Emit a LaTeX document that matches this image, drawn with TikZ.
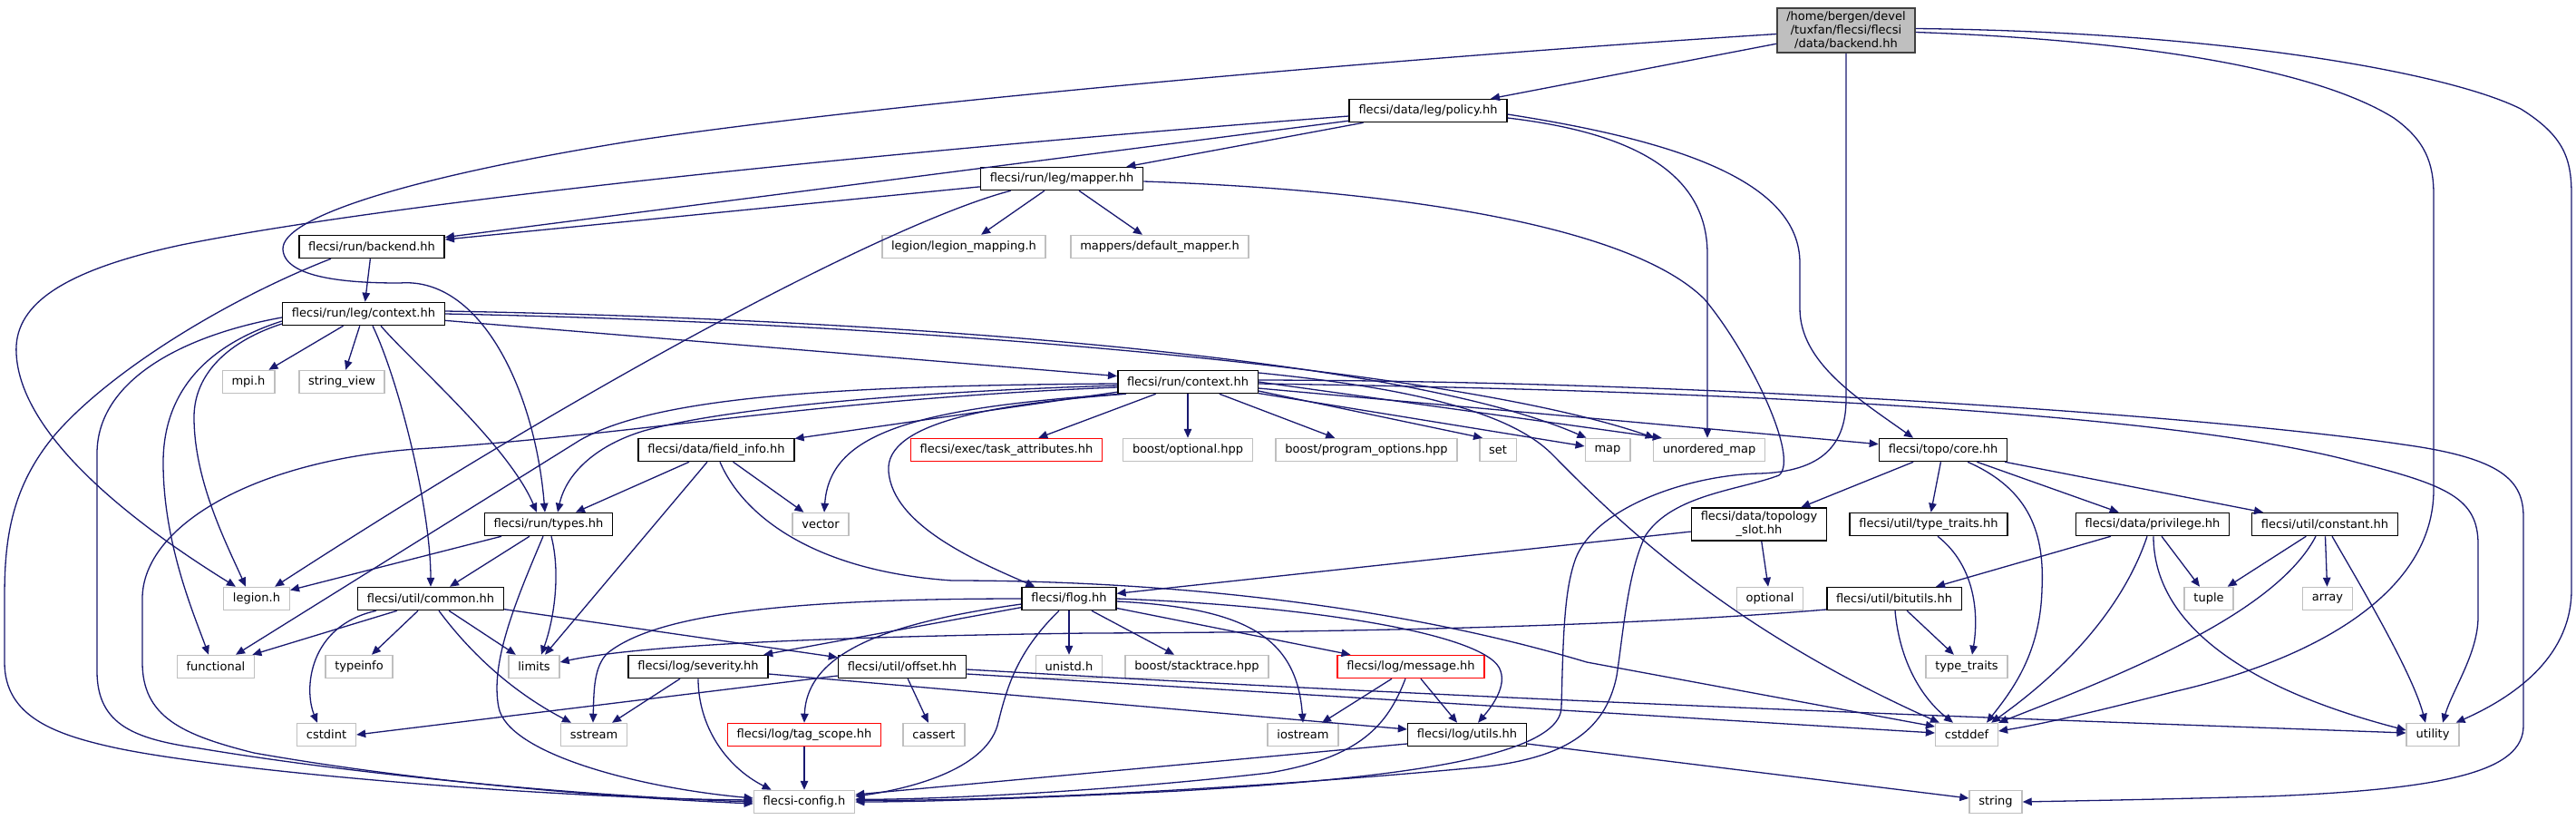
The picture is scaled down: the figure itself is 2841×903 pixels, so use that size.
\documentclass[tikz,border=0pt]{standalone}
\usepackage{fontspec}
\setmainfont{DejaVu Sans}
\usetikzlibrary{arrows.meta,calc}
\definecolor{edgeblue}{RGB}{25,25,112}
\definecolor{graybd}{RGB}{191,191,191}
\definecolor{darkbd}{RGB}{64,64,64}
\definecolor{mainfill}{RGB}{191,191,191}
\tikzset{
 nbox/.style={draw=black, line width=1.5pt, fill=white, font=\fontsize{13}{15}\selectfont, inner xsep=10.3pt, inner ysep=0pt, minimum height=25pt},
 sysbox/.style={nbox, draw=graybd},
 redbox/.style={nbox, draw=red},
 mainbox/.style={nbox, fill=mainfill, draw=darkbd, align=center, inner ysep=4pt},
 twobox/.style={nbox, align=center, inner ysep=4pt},
 dep/.style={draw=edgeblue, line width=1.3pt, -{Triangle[length=10pt,width=8.5pt]}},
}
\begin{document}
\begin{tikzpicture}[x=1pt,y=-1pt]
\fill[white] (0,0) rectangle (2841,903);
\useasboundingbox (0,0) rectangle (2841,903);
% nodes
\node[mainbox] (main) at (2036,33.5) {/home/bergen/devel\\/tuxfan/flecsi/flecsi\\/data/backend.hh};
\node[nbox] (policy) at (1575,122) {flecsi/data/leg/policy.hh};
\node[nbox] (mapper) at (1171,197) {flecsi/run/leg/mapper.hh};
\node[sysbox] (lmap) at (1063,272) {legion/legion\_mapping.h};
\node[sysbox] (dmap) at (1279,272) {mappers/default\_mapper.h};
\node[nbox] (rback) at (410,272) {flecsi/run/backend.hh};
\node[nbox] (lctx) at (401,346) {flecsi/run/leg/context.hh};
\node[sysbox] (mpi) at (274,421) {mpi.h};
\node[sysbox] (sview) at (377,421) {string\_view};
\node[nbox] (rctx) at (1310,421) {flecsi/run/context.hh};
\node[nbox] (finfo) at (790,496) {flecsi/data/field\_info.hh};
\node[redbox] (task) at (1110,496) {flecsi/exec/task\_attributes.hh};
\node[sysbox] (bopt) at (1310,496) {boost/optional.hpp};
\node[sysbox] (bpo) at (1507,496) {boost/program\_options.hpp};
\node[sysbox] (nset) at (1652,496) {set};
\node[sysbox] (nmap) at (1773,496) {map};
\node[sysbox] (numap) at (1885,496) {unordered\_map};
\node[nbox] (core) at (2143,496) {flecsi/topo/core.hh};
\node[nbox] (types) at (605,578) {flecsi/run/types.hh};
\node[sysbox] (vector) at (905,578) {vector};
\node[twobox] (tslot) at (1940,578) {flecsi/data/topology\\\_slot.hh};
\node[nbox] (tthh) at (2127,578) {flecsi/util/type\_traits.hh};
\node[nbox] (priv) at (2374,578) {flecsi/data/privilege.hh};
\node[nbox] (konst) at (2564,578) {flecsi/util/constant.hh};
\node[sysbox] (legion) at (283,660) {legion.h};
\node[nbox] (common) at (475,660) {flecsi/util/common.hh};
\node[nbox] (flog) at (1179,660) {flecsi/flog.hh};
\node[sysbox] (optional) at (1952,660) {optional};
\node[nbox] (bitu) at (2089,660) {flecsi/util/bitutils.hh};
\node[sysbox] (tuple) at (2436,660) {tuple};
\node[sysbox] (array) at (2567,660) {array};
\node[sysbox] (functional) at (238,735) {functional};
\node[sysbox] (typeinfo) at (396,735) {typeinfo};
\node[sysbox] (limits) at (589,735) {limits};
\node[nbox] (sev) at (770,735) {flecsi/log/severity.hh};
\node[nbox] (offset) at (995,735) {flecsi/util/offset.hh};
\node[sysbox] (unistd) at (1179,735) {unistd.h};
\node[sysbox] (stack) at (1320,735) {boost/stacktrace.hpp};
\node[redbox] (msg) at (1556,735) {flecsi/log/message.hh};
\node[sysbox] (ttraits) at (2169,735) {type\_traits};
\node[sysbox] (cstdint) at (360,810) {cstdint};
\node[sysbox] (sstream) at (655,810) {sstream};
\node[redbox] (tag) at (887,810) {flecsi/log/tag\_scope.hh};
\node[sysbox] (cassert) at (1030,810) {cassert};
\node[sysbox] (iostream) at (1437,810) {iostream};
\node[nbox] (utils) at (1618,810) {flecsi/log/utils.hh};
\node[sysbox] (cstddef) at (2169,810) {cstddef};
\node[sysbox] (utility) at (2683,810) {utility};
\node[sysbox] (config) at (887,884) {flecsi-config.h};
\node[sysbox] (string) at (2201,884) {string};
% main
\draw[dep] (main) -- (policy);
\draw[dep] ($(main.west)+(0,4)$) .. controls (1600,60) and (1000,110) .. (700,155) .. controls (450,195) and (310,240) .. (312,275) .. controls (314,310) and (400,312) .. (441,312) .. controls (530,305) and (590,430) .. ($(types.north)+(-4,0)$);
\draw[dep] (main.south) -- (2036,440) .. controls (2036,490) and (2010,520) .. (1940,522) .. controls (1860,524) and (1760,560) .. (1738,615) .. controls (1725,650) and (1724,700) .. (1722,780) .. controls (1720,840) and (1500,860) .. (1300,872) .. controls (1100,882) and (1000,884) .. (config.east);
\draw[dep] ($(main.east)+(0,2)$) .. controls (2380,45) and (2560,80) .. (2640,130) .. controls (2675,155) and (2684,180) .. (2684,215) -- (2684,540) .. controls (2684,650) and (2560,725) .. (2400,762) .. controls (2320,782) and (2260,797) .. ($(cstddef.east)+(0,-4)$);
\draw[dep] ($(main.east)+(0,-2)$) .. controls (2450,35) and (2700,80) .. (2780,120) .. controls (2828,150) and (2836,175) .. (2836,215) -- (2836,650) .. controls (2836,720) and (2780,765) .. ($(utility.north east)+(-4,0)$);
% policy
\draw[dep] ($(policy.west)+(0,6)$) .. controls (1000,165) and (450,220) .. (200,270) .. controls (60,300) and (15,340) .. (18,390) .. controls (22,470) and (120,560) .. ($(legion.north west)+(14,0)$);
\draw[dep] (policy) -- (rback);
\draw[dep] (policy) -- (mapper);
\draw[dep] ($(policy.east)+(0,8)$) .. controls (1790,145) and (1883,185) .. (1883,280) -- ($(numap.north)+(-2,0)$);
\draw[dep] ($(policy.east)+(0,4)$) .. controls (1850,155) and (1985,200) .. (1985,290) -- (1985,340) .. controls (1985,400) and (2050,440) .. ($(core.north)+(-33,0)$);
% mapper
\draw[dep] (mapper) -- (rback);
\draw[dep] (mapper) -- (lmap);
\draw[dep] (mapper) -- (dmap);
\draw[dep] ($(mapper.south west)+(34,0)$) .. controls (1000,240) and (700,390) .. ($(legion.north east)+(-17,0)$);
\draw[dep] ($(mapper.east)+(0,3)$) .. controls (1550,210) and (1800,250) .. (1880,330) .. controls (1930,390) and (1985,505) .. (1962,524) .. controls (1920,540) and (1845,545) .. (1815,590) .. controls (1795,630) and (1790,700) .. (1783,745) .. controls (1770,810) and (1720,835) .. (1640,845) .. controls (1400,868) and (1100,884) .. ($(config.east)+(0,-2)$);
% run/backend
\draw[dep] (rback) -- (lctx);
\draw[dep] ($(rback.south)+(-45,0)$) .. controls (250,330) and (120,410) .. (60,480) .. controls (10,540) and (5,600) .. (5,660) -- (5,730) .. controls (5,790) and (60,810) .. (130,825) .. controls (250,850) and (600,880) .. ($(config.west)+(0,-2)$);
% leg/context
\draw[dep] (lctx) -- (mpi);
\draw[dep] (lctx) -- (sview);
\draw[dep] (lctx) -- (rctx);
\draw[dep] ($(lctx.south)+(19,0)$) .. controls (455,400) and (560,490) .. ($(types.north)+(-13,0)$);
\draw[dep] ($(lctx.south)+(10,0)$) .. controls (440,420) and (475,560) .. (common.north);
\draw[dep] ($(lctx.west)+(0,11)$) .. controls (255,375) and (214,410) .. (214,460) .. controls (214,530) and (250,600) .. ($(legion.north)+(-12,0)$);
\draw[dep] ($(lctx.west)+(0,8)$) .. controls (230,380) and (180,430) .. (180,510) .. controls (180,600) and (215,680) .. ($(functional.north)+(-8,0)$);
\draw[dep] ($(lctx.west)+(0,4)$) .. controls (200,370) and (107,420) .. (107,500) -- (107,740) .. controls (107,800) and (150,815) .. (220,825) .. controls (400,855) and (650,878) .. (config.west);
\draw[dep] ($(lctx.east)+(0,-3)$) .. controls (1000,352) and (1550,395) .. ($(nmap.north west)+(2,0)$);
\draw[dep] (lctx.east) .. controls (1000,356) and (1600,405) .. ($(numap.north west)+(2,0)$);
% run/context
\draw[dep] (rctx) -- (finfo);
\draw[dep] (rctx) -- (task);
\draw[dep] (rctx) -- (bopt);
\draw[dep] (rctx) -- (bpo);
\draw[dep] ($(rctx.east)+(0,10)$) -- ($(nset.north west)+(4,0)$);
\draw[dep] (rctx) -- (nmap);
\draw[dep] (rctx.east) -- ($(numap.north west)+(10,0)$);
\draw[dep] (rctx) -- (core);
\draw[dep] ($(rctx.south west)+(10,0)$) .. controls (1100,445) and (975,465) .. (980,520) .. controls (985,580) and (1080,620) .. ($(flog.north west)+(15,0)$);
\draw[dep] ($(rctx.south west)+(5,0)$) .. controls (1000,450) and (915,480) .. ($(vector.north)+(4,0)$);
\draw[dep] ($(rctx.west)+(0,4)$) .. controls (1000,432) and (800,450) .. (710,475) .. controls (660,490) and (625,520) .. ($(types.north)+(10,0)$);
\draw[dep] ($(rctx.west)+(0,2)$) .. controls (900,425) and (720,440) .. (640,485) -- ($(functional.north)+(22,0)$);
\draw[dep] ($(rctx.west)+(0,6)$) .. controls (900,440) and (700,480) .. (459,495) .. controls (280,508) and (157,580) .. (157,660) -- (157,730) .. controls (157,790) and (200,810) .. (280,830) .. controls (450,860) and (650,878) .. ($(config.west)+(0,2)$);
\draw[dep] ($(rctx.east)+(0,-10)$) .. controls (1580,430) and (1670,460) .. (1711,500) .. controls (1780,570) and (1900,690) .. ($(cstddef.north west)+(5,0)$);
\draw[dep] ($(rctx.east)+(0,2)$) .. controls (1900,430) and (2400,455) .. (2600,510) .. controls (2700,535) and (2733,550) .. (2733,600) -- (2733,680) .. controls (2733,720) and (2705,760) .. ($(utility.north)+(11,0)$);
\draw[dep] ($(rctx.east)+(0,-2)$) .. controls (1900,420) and (2450,460) .. (2650,490) .. controls (2760,505) and (2783,530) .. (2783,570) -- (2783,800) .. controls (2783,850) and (2700,870) .. (2500,878) .. controls (2350,882) and (2280,883) .. (string.east);
% field_info
\draw[dep] (finfo) -- (types);
\draw[dep] (finfo) -- (vector);
\draw[dep] ($(finfo.south)+(-10,0)$) -- ($(limits.north)+(12,0)$);
\draw[dep] ($(finfo.south)+(4,0)$) .. controls (820,570) and (900,630) .. (1050,640) .. controls (1300,640) and (1550,670) .. (1750,730) -- ($(cstddef.west)+(0,-9)$);
% types
\draw[dep] (types) -- (legion);
\draw[dep] (types) -- (common);
\draw[dep] ($(types.south)+(3,0)$) .. controls (618,630) and (612,680) .. ($(limits.north)+(8,0)$);
\draw[dep] ($(types.south)+(-6,0)$) .. controls (570,660) and (540,730) .. (550,780) .. controls (560,830) and (700,868) .. ($(config.west)+(0,-4)$);
% common
\draw[dep] ($(common.south)+(-37,0)$) -- ($(functional.north east)+(-3,0)$);
\draw[dep] (common) -- (typeinfo);
\draw[dep] (common) -- (limits);
\draw[dep] ($(common.south)+(9,0)$) .. controls (515,715) and (560,760) .. ($(sstream.north)+(-25,0)$);
\draw[dep] ($(common.south)+(-60,0)$) .. controls (340,690) and (335,760) .. ($(cstdint.north)+(-10,0)$);
\draw[dep] (common) -- (offset);
% flog
\draw[dep] (flog) -- (sev);
\draw[dep] ($(flog.west)+(0,6)$) .. controls (990,685) and (890,715) .. (tag.north);
\draw[dep] (flog) -- (unistd);
\draw[dep] (flog) -- (stack);
\draw[dep] ($(flog.south)+(-11,0)$) .. controls (1120,720) and (1110,760) .. (1100,800) .. controls (1085,850) and (1000,870) .. ($(config.east)+(0,-6)$);
\draw[dep] (flog.west) .. controls (850,660) and (720,680) .. (670,720) .. controls (655,735) and (655,760) .. ($(sstream.north)+(-1,0)$);
\draw[dep] (flog) -- (msg);
\draw[dep] ($(flog.east)+(0,3)$) .. controls (1370,670) and (1430,700) .. (iostream.north);
\draw[dep] (flog.east) .. controls (1450,668) and (1645,700) .. (1655,740) .. controls (1662,760) and (1640,785) .. ($(utils.north)+(12,0)$);
% topology slot
\draw[dep] (tslot) -- (optional);
\draw[dep] (tslot) -- (flog);
% core
\draw[dep] (core) -- (tslot);
\draw[dep] (core) -- (tthh);
\draw[dep] (core) -- (priv);
\draw[dep] (core) -- (konst);
\draw[dep] ($(core.south)+(27,0)$) .. controls (2240,540) and (2255,590) .. (2252,650) .. controls (2250,720) and (2220,760) .. ($(cstddef.north)+(22,0)$);
\draw[dep] ($(tthh.south)+(10,0)$) .. controls (2180,625) and (2182,680) .. ($(ttraits.north)+(6,0)$);
% privilege
\draw[dep] (priv) -- (bitu);
\draw[dep] ($(priv.south)+(-6,0)$) .. controls (2345,660) and (2290,730) .. ($(cstddef.north east)+(-8,0)$);
\draw[dep] (priv) -- (tuple);
\draw[dep] ($(priv.south)+(1,0)$) .. controls (2375,690) and (2480,760) .. ($(utility.west)+(0,-5)$);
% constant
\draw[dep] (konst) -- (tuple);
\draw[dep] (konst) -- (array);
\draw[dep] ($(konst.south)+(-10,0)$) .. controls (2510,675) and (2350,740) .. (cstddef.north east);
\draw[dep] ($(konst.south)+(8,0)$) .. controls (2600,640) and (2660,740) .. ($(utility.north)+(-8,0)$);
% bitutils
\draw[dep] (bitu) -- (ttraits);
\draw[dep] ($(bitu.south)+(1,0)$) .. controls (2095,730) and (2120,770) .. ($(cstddef.north)+(-15,0)$);
\draw[dep] ($(bitu.west)+(0,12)$) .. controls (1800,690) and (1500,697) .. (1200,698) .. controls (900,702) and (700,712) .. ($(limits.east)+(0,-5)$);
% severity
\draw[dep] ($(sev.east)+(0,8)$) -- ($(utils.west)+(0,-6)$);
\draw[dep] ($(sev.south)+(-20,0)$) -- ($(sstream.north)+(20,0)$);
\draw[dep] (sev.south) .. controls (770,800) and (800,845) .. ($(config.north west)+(20,0)$);
% offset
\draw[dep] (offset) -- (cassert);
\draw[dep] ($(offset.west)+(0,10)$) -- (cstdint.east);
\draw[dep] ($(offset.east)+(0,8)$) -- ($(cstddef.west)+(0,-2)$);
\draw[dep] ($(offset.east)+(0,3)$) .. controls (1700,775) and (2300,795) .. ($(utility.west)+(0,-2)$);
% message
\draw[dep] (msg) -- (iostream);
\draw[dep] (msg) -- (utils);
\draw[dep] ($(msg.south)+(-6,0)$) .. controls (1530,800) and (1500,835) .. (1400,852) .. controls (1200,875) and (1000,882) .. ($(config.east)+(0,-3)$);
% utils, tag
\draw[dep] ($(utils.west)+(0,10)$) -- ($(config.east)+(0,-8)$);
\draw[dep] ($(utils.east)+(0,10)$) -- ($(string.west)+(0,-4)$);
\draw[dep] (tag) -- (config);
\end{tikzpicture}
\end{document}
